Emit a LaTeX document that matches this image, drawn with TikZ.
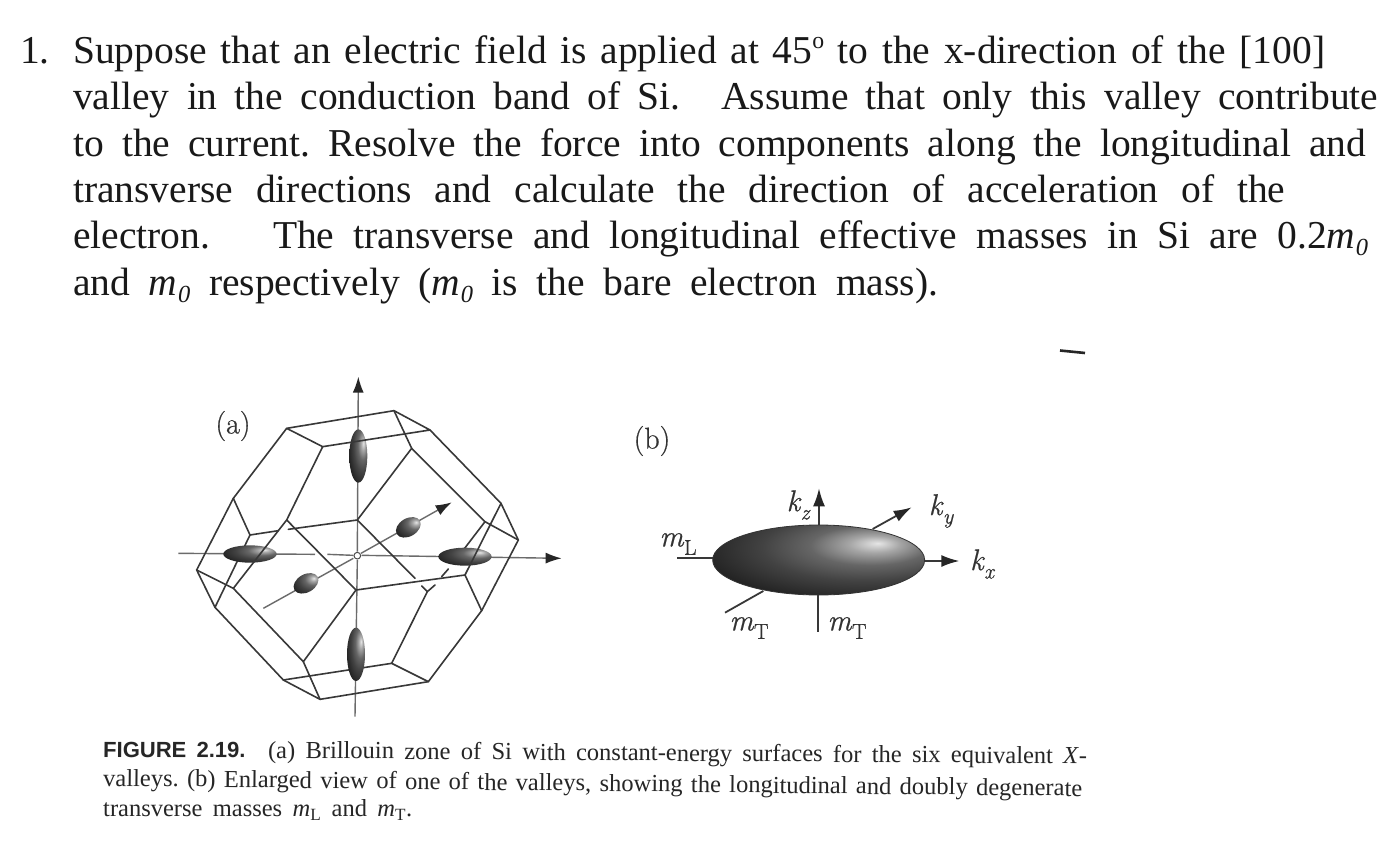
\documentclass[tikz,border=0pt]{standalone}
\usepackage{fontspec}
\setmainfont{Liberation Serif}
\newfontfamily\capsans{Liberation Sans}
\newfontfamily\figfont[FakeBold=0.6]{Latin Modern Roman}
\usetikzlibrary{arrows.meta}
\frenchspacing
\pgfdeclareradialshading{valleyshade}{\pgfpoint{14bp}{12bp}}{%
  color(0bp)=(black!10); color(6bp)=(black!35); color(14bp)=(black!60); color(24bp)=(black!74); color(36bp)=(black!86); color(50bp)=(black!92); color(70bp)=(black!98); color(100bp)=(black!98)}
\newcommand{\mzero}{\textit{m\kern.02em\raisebox{-.18em}{\scalebox{.62}{0}}}}
\newcommand{\figsym}[2]{{\figfont\itshape #1\kern.02em\raisebox{-.28em}{\scalebox{.72}{#2}}}}
\newcommand{\figsub}[2]{{\figfont\itshape #1\kern.02em\raisebox{-.28em}{\scalebox{.72}{\upshape #2}}}}
\tikzset{
  txt/.style={anchor=base west,inner sep=0pt,font=\fontsize{39.5}{42}\selectfont,text=black!90},
  captxt/.style={anchor=base west,inner sep=0pt,font=\fontsize{24.5}{26}\selectfont,text=black!85},
  figlab/.style={inner sep=0pt,font=\fontsize{30}{32}\selectfont\figfont,text=black!80},
  zedge/.style={draw=black!78,line width=1.6pt,line join=round,line cap=round},
  zaxis/.style={draw=black!58,line width=1.4pt},
  zarrow/.style={draw=black!58,line width=1.4pt,-{Latex[length=16pt,width=11pt,black!85]}},
  baxis/.style={draw=black!78,line width=1.8pt},
  barrow/.style={draw=black!78,line width=1.8pt,-{Latex[length=18pt,width=12pt,black!85]}},
  valley/.style={shading=valleyshade}
}
\begin{document}
\begin{tikzpicture}[x=1pt,y=-1pt]
\useasboundingbox[fill=white] (0,0) rectangle (1394,848);
% problem text
\node[txt] (n1) at (20,64) {1.};
\node[txt] (l1) at (73,64) {\makebox[1252pt][s]{Suppose that an electric field is applied at 45\raisebox{.4em}{\scalebox{.6}{o}} to the x-direction of the [100]}};
\node[txt] (l2) at (73,110) {\makebox[1305pt][s]{valley in the conduction band of Si.\hspace{.6em} Assume that only this valley contribute}};
\node[txt] (l3) at (73,156) {\makebox[1293pt][s]{to the current. Resolve the force into components along the longitudinal and}};
\node[txt] (l4) at (73,202) {\makebox[1212pt][s]{transverse directions and calculate the direction of acceleration of the}};
\node[txt] (l5) at (73,248) {\makebox[1295pt][s]{electron.\hspace{1.1em} The transverse and longitudinal effective masses in Si are 0.2\mzero}};
\node[txt] (l6) at (73,295) {\makebox[865pt][s]{and \mzero{} respectively (\mzero{} is the bare electron mass).}};
% scan mark
\draw[black!85,line width=2.6pt] (1060,350.5) -- (1085,353);
% (a) Brillouin zone, coordinates from a 3x crop
\begin{scope}[shift={(170,370)},x=.33333pt,y=-.33333pt]
  % axes
  \draw[zarrow] (562,545) -- (565,20);
  \draw[zaxis] (562,570) -- (555,1040);
  \draw[zaxis] (25,550) -- (435,553);
  \draw[zaxis] (472,553) -- (550,556);
  \draw[zarrow] (575,556) -- (1175,565);
  \draw[zaxis] (280,715) -- (550,565);
  \draw[zarrow] (573,550) -- (845,397);
  \draw[black!70,line width=1pt,fill=white] (562,557) circle (10);
  % rear edges
  \draw[zedge] (672,122) -- (725,235) -- (562,450) -- (355,478);
  \draw[zedge] (325,482) -- (240,495) -- (190,385);
  \draw[zedge] (240,495) -- (135,712);
  \draw[zedge] (725,235) -- (945,455) -- (1045,510);
  \draw[zedge] (945,455) -- (880,540);
  \draw[zedge] (835,597) -- (815,620);
  \draw[zedge] (795,645) -- (772,665) -- (665,880) -- (775,935);
  \draw[zedge] (562,450) -- (735,625);
  \draw[zedge] (755,648) -- (772,665);
  \draw[zedge] (340,930) -- (665,880);
  % ellipsoids
  \shade[valley] (565,258) ellipse (27 and 80);
  \shade[valley] (558,853) ellipse (27 and 80);
  \shade[valley] (240,552) ellipse (80 and 26);
  \shade[valley] (885,560) ellipse (80 and 27);
  \shade[valley,rotate around={30:(715,472)}] (715,472) ellipse (40 and 27);
  \shade[valley,rotate around={30:(408,640)}] (408,640) ellipse (40 and 27);
  % front edges
  \draw[zedge] (350,175) -- (672,122) -- (780,180) -- (458,230) -- cycle;
  \draw[zedge] (350,175) -- (190,385) -- (80,600) -- (135,712) -- (340,930) -- (450,988) -- (775,935) -- (935,722) -- (1045,510) -- (993,400) -- (780,180);
  \draw[zedge] (458,230) -- (350,450) -- (190,655) -- (80,600);
  \draw[zedge] (350,450) -- (558,660) -- (400,875) -- (190,655);
  \draw[zedge] (400,875) -- (450,988);
  \draw[zedge] (558,660) -- (885,615) -- (993,400);
  \draw[zedge] (885,615) -- (935,722);
\end{scope}
\node[figlab] (la) at (233,426) {(a)};
\node[figlab] (lb) at (652,441) {(b)};
% (b) enlarged valley
\begin{scope}[shift={(630,420)},x=.33333pt,y=-.33333pt]
  \draw[barrow] (567,315) -- (567,205);
  \draw[barrow] (728,327) -- (845,262);
  \draw[barrow] (882,423) -- (988,423);
  \draw[baxis] (142,415) -- (250,415);
  \draw[baxis] (285,578) -- (400,513);
  \draw[baxis] (565,525) -- (565,635);
  \shadedraw[valley,draw=black!80,line width=.8pt] (566,420) ellipse (318 and 105);
\end{scope}
\node[figlab] (kz) at (798,505) {\figsym{k}{z}};
\node[figlab] (ky) at (941,511) {\figsym{k}{y}};
\node[figlab] (kx) at (982,564) {\figsym{k}{x}};
\node[figlab] (ml) at (678,544) {\figsub{m}{L}};
\node[figlab] (mt1) at (749,628) {\figsub{m}{T}};
\node[figlab] (mt2) at (847,628) {\figsub{m}{T}};
% caption
\node[captxt,rotate=-.4] (c1) at (103,757) {\makebox[984pt][s]{{\capsans\bfseries\fontsize{22}{24}\selectfont FIGURE 2.19.}\hspace{.5em} (a) Brillouin zone of Si with constant-energy surfaces for the six equivalent \textit{X}-}};
\node[captxt,rotate=-.6] (c2) at (103,786) {\raisebox{0pt}[\height][0pt]{\makebox[979pt][s]{valleys. (b) Enlarged view of one of the valleys, showing the longitudinal and doubly degenerate}}};
\node[captxt] (c3) at (103,816.5) {\raisebox{0pt}[14pt][0pt]{\makebox[309pt][s]{transverse masses \textit{m}\textsubscript{L} and \textit{m}\textsubscript{T}.}}};
\end{tikzpicture}
\end{document}
